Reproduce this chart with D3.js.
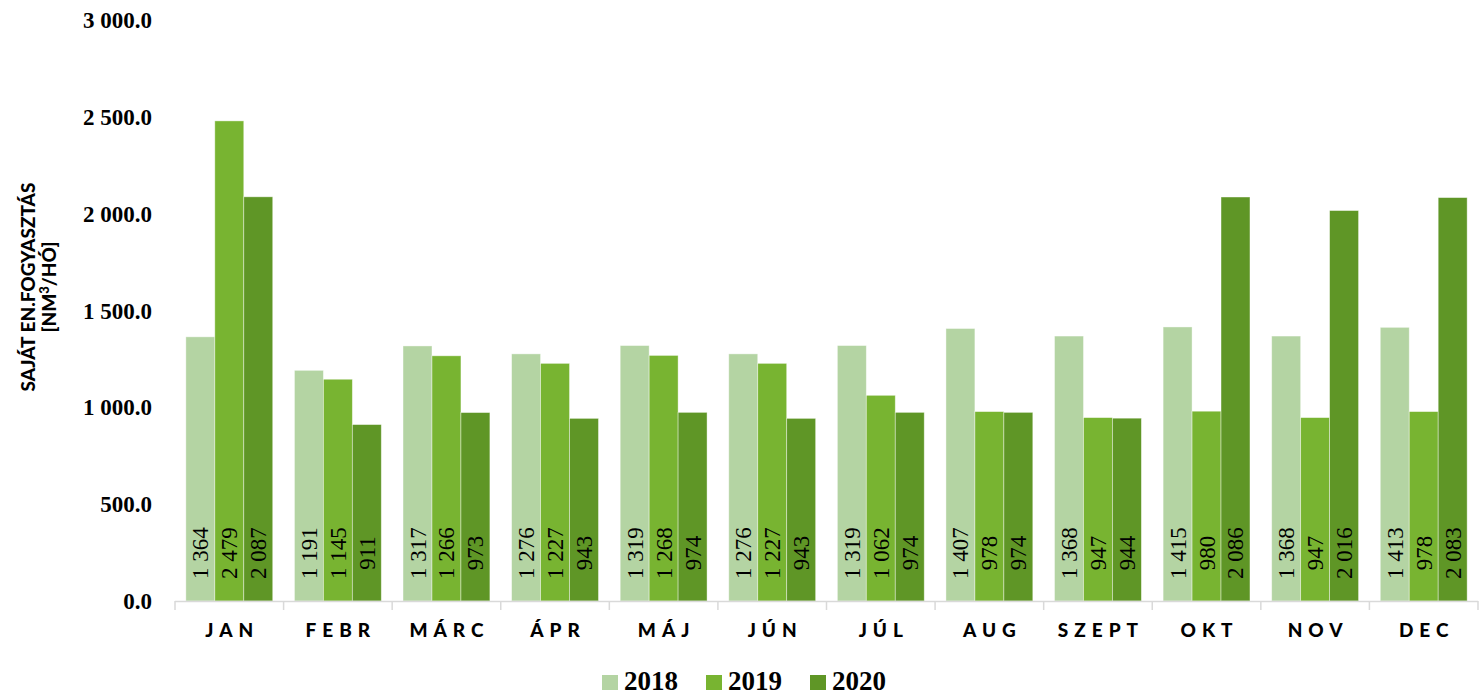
<!DOCTYPE html>
<html>
<head>
<meta charset="utf-8">
<script src="https://cdn.jsdelivr.net/npm/d3@7"></script>
<style>
  body { margin: 0; background: #fff; }
  .ytick { font-family: "Liberation Serif", "DejaVu Serif", serif; font-weight: bold; font-size: 23px; fill: #000; }
  .xlab { font-family: "Lato", "DejaVu Sans", sans-serif; font-weight: 900; font-size: 19px; letter-spacing: 6px; fill: #000; }
  .vlab { font-family: "Liberation Serif", serif; font-size: 23px; fill: #000; }
  .ytitle { font-family: "Lato", "DejaVu Sans", sans-serif; font-weight: 900; font-size: 19px; fill: #000; }
  .leg { font-family: "Liberation Serif", serif; font-weight: bold; font-size: 27px; fill: #000; }
</style>
</head>
<body>
<div id="chart"></div>
<script>
// month categories and yearly series
var months = ["JAN", "FEBR", "MÁRC", "ÁPR", "MÁJ", "JÚN", "JÚL", "AUG", "SZEPT", "OKT", "NOV", "DEC"];
var years = ["2018", "2019", "2020"];
var v2018 = [1364, 1191, 1317, 1276, 1319, 1276, 1319, 1407, 1368, 1415, 1368, 1413];
var v2019 = [2479, 1145, 1266, 1227, 1268, 1227, 1062, 978, 947, 980, 947, 978];
var v2020 = [2087, 911, 973, 943, 974, 943, 974, 974, 944, 2086, 2016, 2083];
var yTicks = [0, 500, 1000, 1500, 2000, 2500, 3000];
var colors = ["#b4d4a3", "#78b431", "#5f9626"];

var series = [v2018, v2019, v2020];

var W = 1481, H = 696;
var plot = {left: 175, right: 1478, top: 20, bottom: 601};

var loc = d3.formatLocale({decimal: ".", thousands: " ", grouping: [3], currency: ["", ""]});
var fmtTick = loc.format(",.1f");
var fmtVal = loc.format(",d");

var svg = d3.select("#chart").append("svg")
    .attr("width", W)
    .attr("height", H);

var x0 = d3.scaleBand()
    .domain(months)
    .range([plot.left, plot.right])
    .paddingInner(0.2)
    .paddingOuter(0.1);

var x1 = d3.scaleBand()
    .domain(years)
    .range([0, x0.bandwidth()]);

var y = d3.scaleLinear()
    .domain([0, 3000])
    .range([plot.bottom, plot.top]);

// y tick labels (no axis line)
svg.selectAll(".ytick")
    .data(yTicks)
    .enter().append("text")
    .attr("class", "ytick")
    .attr("x", 152)
    .attr("y", function(d) { return y(d); })
    .attr("dy", "0.35em")
    .attr("text-anchor", "end")
    .text(function(d) { return fmtTick(d); });

// bars
var rows = months.map(function(m, i) {
    return years.map(function(yr, j) { return {month: m, year: yr, value: series[j][i], j: j}; });
});

var groups = svg.selectAll(".grp")
    .data(rows)
    .enter().append("g")
    .attr("transform", function(d, i) { return "translate(" + x0(months[i]) + ",0)"; });

groups.selectAll("rect")
    .data(function(d) { return d; })
    .enter().append("rect")
    .attr("x", function(d) { return x1(d.year); })
    .attr("y", function(d) { return y(d.value); })
    .attr("width", x1.bandwidth())
    .attr("height", function(d) { return y(0) - y(d.value); })
    .attr("fill", function(d) { return colors[d.j]; })
    .attr("stroke", "#ffffff")
    .attr("stroke-opacity", 0.5)
    .attr("stroke-width", 0.8);

groups.selectAll(".vlab")
    .data(function(d) { return d; })
    .enter().append("text")
    .attr("class", "vlab")
    .attr("transform", function(d) {
        return "translate(" + (x1(d.year) + x1.bandwidth() / 2 + 8) + ",553) rotate(-90)";
    })
    .attr("text-anchor", "middle")
    .text(function(d) { return fmtVal(d.value); });

// x axis line with category boundary ticks
var axisG = svg.append("g");
axisG.append("line")
    .attr("x1", plot.left).attr("x2", plot.right)
    .attr("y1", plot.bottom + 0.5).attr("y2", plot.bottom + 0.5)
    .attr("stroke", "#d9d9d9").attr("stroke-width", 1.5);
var bounds = d3.range(months.length + 1).map(function(i) { return plot.left + i * (plot.right - plot.left) / months.length; });
axisG.selectAll(".tk")
    .data(bounds)
    .enter().append("line")
    .attr("x1", function(d) { return d; }).attr("x2", function(d) { return d; })
    .attr("y1", plot.bottom).attr("y2", plot.bottom + 9)
    .attr("stroke", "#d9d9d9").attr("stroke-width", 1.5);

svg.selectAll(".xlab")
    .data(months)
    .enter().append("text")
    .attr("class", "xlab")
    .attr("x", function(d) { return x0(d) + x0.bandwidth() / 2 + 3; })
    .attr("y", 637)
    .attr("text-anchor", "middle")
    .text(function(d) { return d; });

// y axis title
var yt = svg.append("text")
    .attr("class", "ytitle")
    .attr("transform", "translate(0,287) rotate(-90)")
    .attr("text-anchor", "middle");
yt.append("tspan").attr("x", 0).attr("y", 35).text("SAJÁT EN.FOGYASZTÁS");
var t2 = yt.append("tspan").attr("x", 0).attr("y", 56).text("[NM");
t2.append("tspan").attr("dy", -7).attr("font-size", 13).text("3");
t2.append("tspan").attr("dy", 7).text("/HÓ]");

// legend
var legX = [602, 706, 810];
var leg = svg.selectAll(".legitem")
    .data(years)
    .enter().append("g")
    .attr("transform", function(d, i) { return "translate(" + legX[i] + ",675)"; });
leg.append("rect")
    .attr("width", 16).attr("height", 15)
    .attr("fill", function(d, i) { return colors[i]; });
leg.append("text")
    .attr("class", "leg")
    .attr("x", 22).attr("y", 15)
    .text(function(d) { return d; });
</script>
</body>
</html>
